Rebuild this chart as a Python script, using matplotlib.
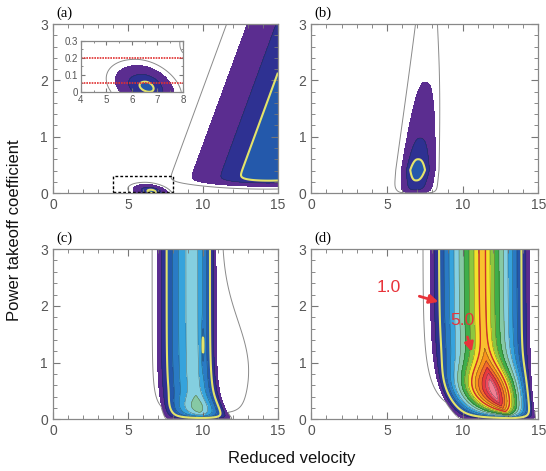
import numpy as np
import matplotlib
matplotlib.use('Agg')
import matplotlib.pyplot as plt
from matplotlib.ticker import MultipleLocator

# contour levels and fill colours (white below the first level)
levels = [0.1, 0.5, 1.0, 1.5, 2.0, 2.5, 3.0, 3.5, 4.0, 4.5, 5.0, 5.5, 6.0, 6.5, 7.0, 7.5, 20.0]
fill_colors = ['#5b2d90', '#2e3192', '#2459ab', '#2a7bc4', '#36a3dc', '#84cfe0',
               '#86c9a4', '#3fae49', '#8dc63f', '#f2e22c', '#f9c12e', '#f7941d',
               '#f26b2a', '#e8393c', '#ec4a5e', '#f27f94']
zero_level = 0.02

# field parameters
# (a): broad region to the right + small island near the axis
a_main = [1.5, 14.09, 1.38, 3.2, 2.0]       # amp, u at C=0, slope, width, power
a_bottom = [0.2, 0.03]                      # cut-off centre, scale
a_island = [1.15, 6.6, 0.03, 3.0, 0.76, 0.63, 0.08]  # amp, u0, c0, shift, wl, wr, wc
# (b): small tongue
b_main = [1.4, 0.41, 0.52, 6.85, 0.35, 0.68, 0.78, 2.5]  # amp, c_peak, decay, u0, slope, wl, wr, p
b_halo = [0.03, 7.55, 0.65, 0.45, 0.81]
# (c): vertical column
c_amp = [2.8, 0.55, 0.2, 0.2]               # top amp, bump, bump centre, bump width
c_centre = [9.35, 0.6, 0.35]
c_width = [2.45, 1.55, 0.5, 0.3, 1.3]       # wl, wr top, wr extra, decay, power
c_halo = [0.04, 3.0, 2.1, 1.9, 0.9, 1.2, 0.15]
c_notch = [-1.2, 10.0, 0.07, 1.3, 0.3]
# (d): strong tilted ridge
d_amp = [5.3, 2.7, 0.5, 0.45]
d_centre = [11.3, 2.0, 0.5]
d_width = [3.5, 3.15, 1.6, 0.5]
d_halo = [0.04, 4.3, 6.0, 0.2]
d_bottom = 0.1

u = np.linspace(0, 15, 751)
c = np.linspace(0, 3, 601)
U, C = np.meshgrid(u, c)


def lobe(uu, amp, uc, wl, wr, p, kind='exp'):
    d = uu - uc
    w = np.where(d < 0, wl, wr)
    x = np.abs(d / w) ** p
    if kind == 'cap':
        return amp * np.clip(1 - x, 0, None)
    return amp * np.exp(-x)


def field_a(uu, cc):
    amp, u0, s, w, p = a_main
    main = lobe(uu, amp, u0 + s * cc, w, w, p)
    main = main / (1 + np.exp(-(cc - a_bottom[0]) / a_bottom[1]))
    ia, iu, ic, sh, wl, wr, wc = a_island
    uc = iu - sh * (cc - ic)
    d = uu - uc
    wu = np.where(d < 0, wl, wr)
    isl = ia * np.exp(-(d / wu) ** 2 - ((cc - ic) / wc) ** 2)
    return main + isl


def field_b(uu, cc):
    amp, cp, dec, u0, s, wl, wr, p = b_main
    bf = 1 - np.exp(-cc / 0.05)
    A = amp * np.exp(-np.abs(cc - cp) / dec) * bf
    main = lobe(uu, A, u0 + s * cc, wl, wr, p)
    ha, hu, hw, hs, hwr = b_halo
    hwl = (hw + hs * (3 - cc)) / 0.798
    halo = lobe(uu, ha * bf, hu, hwl, hwr, 4)
    return main + halo


def field_c(uu, cc):
    bf = 1 - np.exp(-cc / 0.05)
    a0, a1, cp, cs = c_amp
    A = (a0 + a1 * np.exp(-((cc - cp) / cs) ** 2)) * bf
    u0, du, dc = c_centre
    uc = u0 + du * np.exp(-cc / dc)
    wl, wr0, wr1, wrc, q = c_width
    wr = wr0 + wr1 * np.exp(-cc / wrc)
    main = lobe(uu, A, uc, wl, wr, q, kind='cap')
    ha, hwl, hwr0, hwr1, hc, hs, hb = c_halo
    hwr = hwr0 + hwr1 * np.exp(-((cc - hc) / hs) ** 2)
    halo = lobe(uu, ha * (1 - np.exp(-cc / hb)), uc, hwl, hwr, 4)
    na, nu, nw, nc, nwc = c_notch
    notch = na * np.exp(-((uu - nu) / nw) ** 2 - ((cc - nc) / nwc) ** 2)
    return main + halo + notch


def field_d(uu, cc):
    bf = 1 - np.exp(-cc / d_bottom)
    a0, a1, cp, cs = d_amp
    A = (a0 + a1 * np.exp(-((cc - cp) / cs) ** 2)) * bf
    u0, du, dc = d_centre
    uc = u0 + du * np.exp(-cc / dc)
    wl, wr0, wr1, wrc = d_width
    wr = wr0 - wr1 * np.exp(-cc / wrc)
    main = lobe(uu, A, uc, wl, wr, 1.0, kind='cap')
    ha, hwl, hwr, hb = d_halo
    halo = lobe(uu, ha * (1 - np.exp(-cc / hb)), uc, hwl, hwr, 4)
    return main + halo


def draw(ax, X, Y, F):
    ax.contourf(X, Y, F, levels=levels, colors=fill_colors)
    ax.contour(X, Y, F, levels=levels[1:-1], colors='#222222', linewidths=0.35, alpha=0.6)
    ax.contour(X, Y, F, levels=[zero_level], colors='#8a8a8a', linewidths=0.7)
    ax.contour(X, Y, F, levels=[1.0], colors='#e4e46a', linewidths=1.5)
    ax.contour(X, Y, F, levels=[5.0], colors='#d0302a', linewidths=1.0)


def style(ax, xmaj=5, xmin=1, ymaj=1, ymin=0.2, size=10):
    ax.xaxis.set_major_locator(MultipleLocator(xmaj))
    ax.xaxis.set_minor_locator(MultipleLocator(xmin))
    ax.yaxis.set_major_locator(MultipleLocator(ymaj))
    ax.yaxis.set_minor_locator(MultipleLocator(ymin))
    ax.tick_params(which='both', direction='in', top=True, right=True,
                   color='#777777', labelcolor='#555555', labelsize=size)
    ax.tick_params(which='major', length=5, width=0.8)
    ax.tick_params(which='minor', length=3, width=0.6)
    for sp in ax.spines.values():
        sp.set_color('#888888')
        sp.set_linewidth(0.9)


plt.rcParams['font.family'] = ['Liberation Sans', 'DejaVu Sans']
fig = plt.figure(figsize=(5.46, 4.71), dpi=100)

boxes = {'a': [0.097, 0.590, 0.412, 0.359], 'b': [0.570, 0.590, 0.416, 0.359],
         'c': [0.097, 0.110, 0.412, 0.361], 'd': [0.570, 0.110, 0.416, 0.361]}
fields = {'a': field_a, 'b': field_b, 'c': field_c, 'd': field_d}

axes = {}
for key in ['a', 'b', 'c', 'd']:
    ax = fig.add_axes(boxes[key])
    draw(ax, U, C, fields[key](U, C))
    ax.set_xlim(0, 15)
    ax.set_ylim(0, 3)
    style(ax)
    ax.text(0.015, 1.025, '(%s)' % key, transform=ax.transAxes, fontsize=10.5,
            family='Liberation Serif', va='bottom', ha='left')
    axes[key] = ax

# dashed box marking the zoomed region in (a)
axes['a'].plot([4, 8, 8, 4, 4], [0.02, 0.02, 0.3, 0.3, 0.02], ls=(0, (2, 1.5)),
               color='black', lw=1.0)

# inset of (a)
ui = np.linspace(4, 8, 401)
ci = np.linspace(0, 0.3, 301)
Ui, Ci = np.meshgrid(ui, ci)
axi = fig.add_axes([0.148, 0.805, 0.187, 0.108])
draw(axi, Ui, Ci, field_a(Ui, Ci))
for yl in [0.2, 0.05]:
    axi.axhline(yl, color='#e03030', lw=1.2, ls=(0, (1, 0.6)))
axi.set_xlim(4, 8)
axi.set_ylim(0, 0.3)
style(axi, xmaj=1, xmin=0.5, ymaj=0.1, ymin=0.05, size=7)
axi.tick_params(which='major', length=3, pad=2)
axi.tick_params(which='minor', length=1.5)
axi.set_yticks([0, 0.1, 0.2, 0.3])
axi.set_yticklabels(['0', '0.1', '0.2', '0.3'])

# annotations in (d)
red = '#e8333a'
axes['d'].annotate('1.0', xy=(8.4, 2.07), xytext=(5.1, 2.33), color=red, fontsize=12.5,
                   ha='center', va='center',
                   arrowprops=dict(arrowstyle='-|>', color=red, lw=2.0, mutation_scale=13,
                                   shrinkA=12, shrinkB=0))
axes['d'].annotate('5.0', xy=(10.6, 1.19), xytext=(10.0, 1.75), color=red, fontsize=12.5,
                   ha='center', va='center',
                   arrowprops=dict(arrowstyle='-|>', color=red, lw=2.0, mutation_scale=13,
                                   shrinkA=5, shrinkB=0))

fig.text(0.026, 0.512, 'Power takeoff coefficient', rotation=90, fontsize=12,
         ha='center', va='center', color='#111111')
fig.text(0.535, 0.027, 'Reduced velocity', fontsize=12, ha='center', va='center',
         color='#111111')

fig.savefig('out.png', dpi=100)
